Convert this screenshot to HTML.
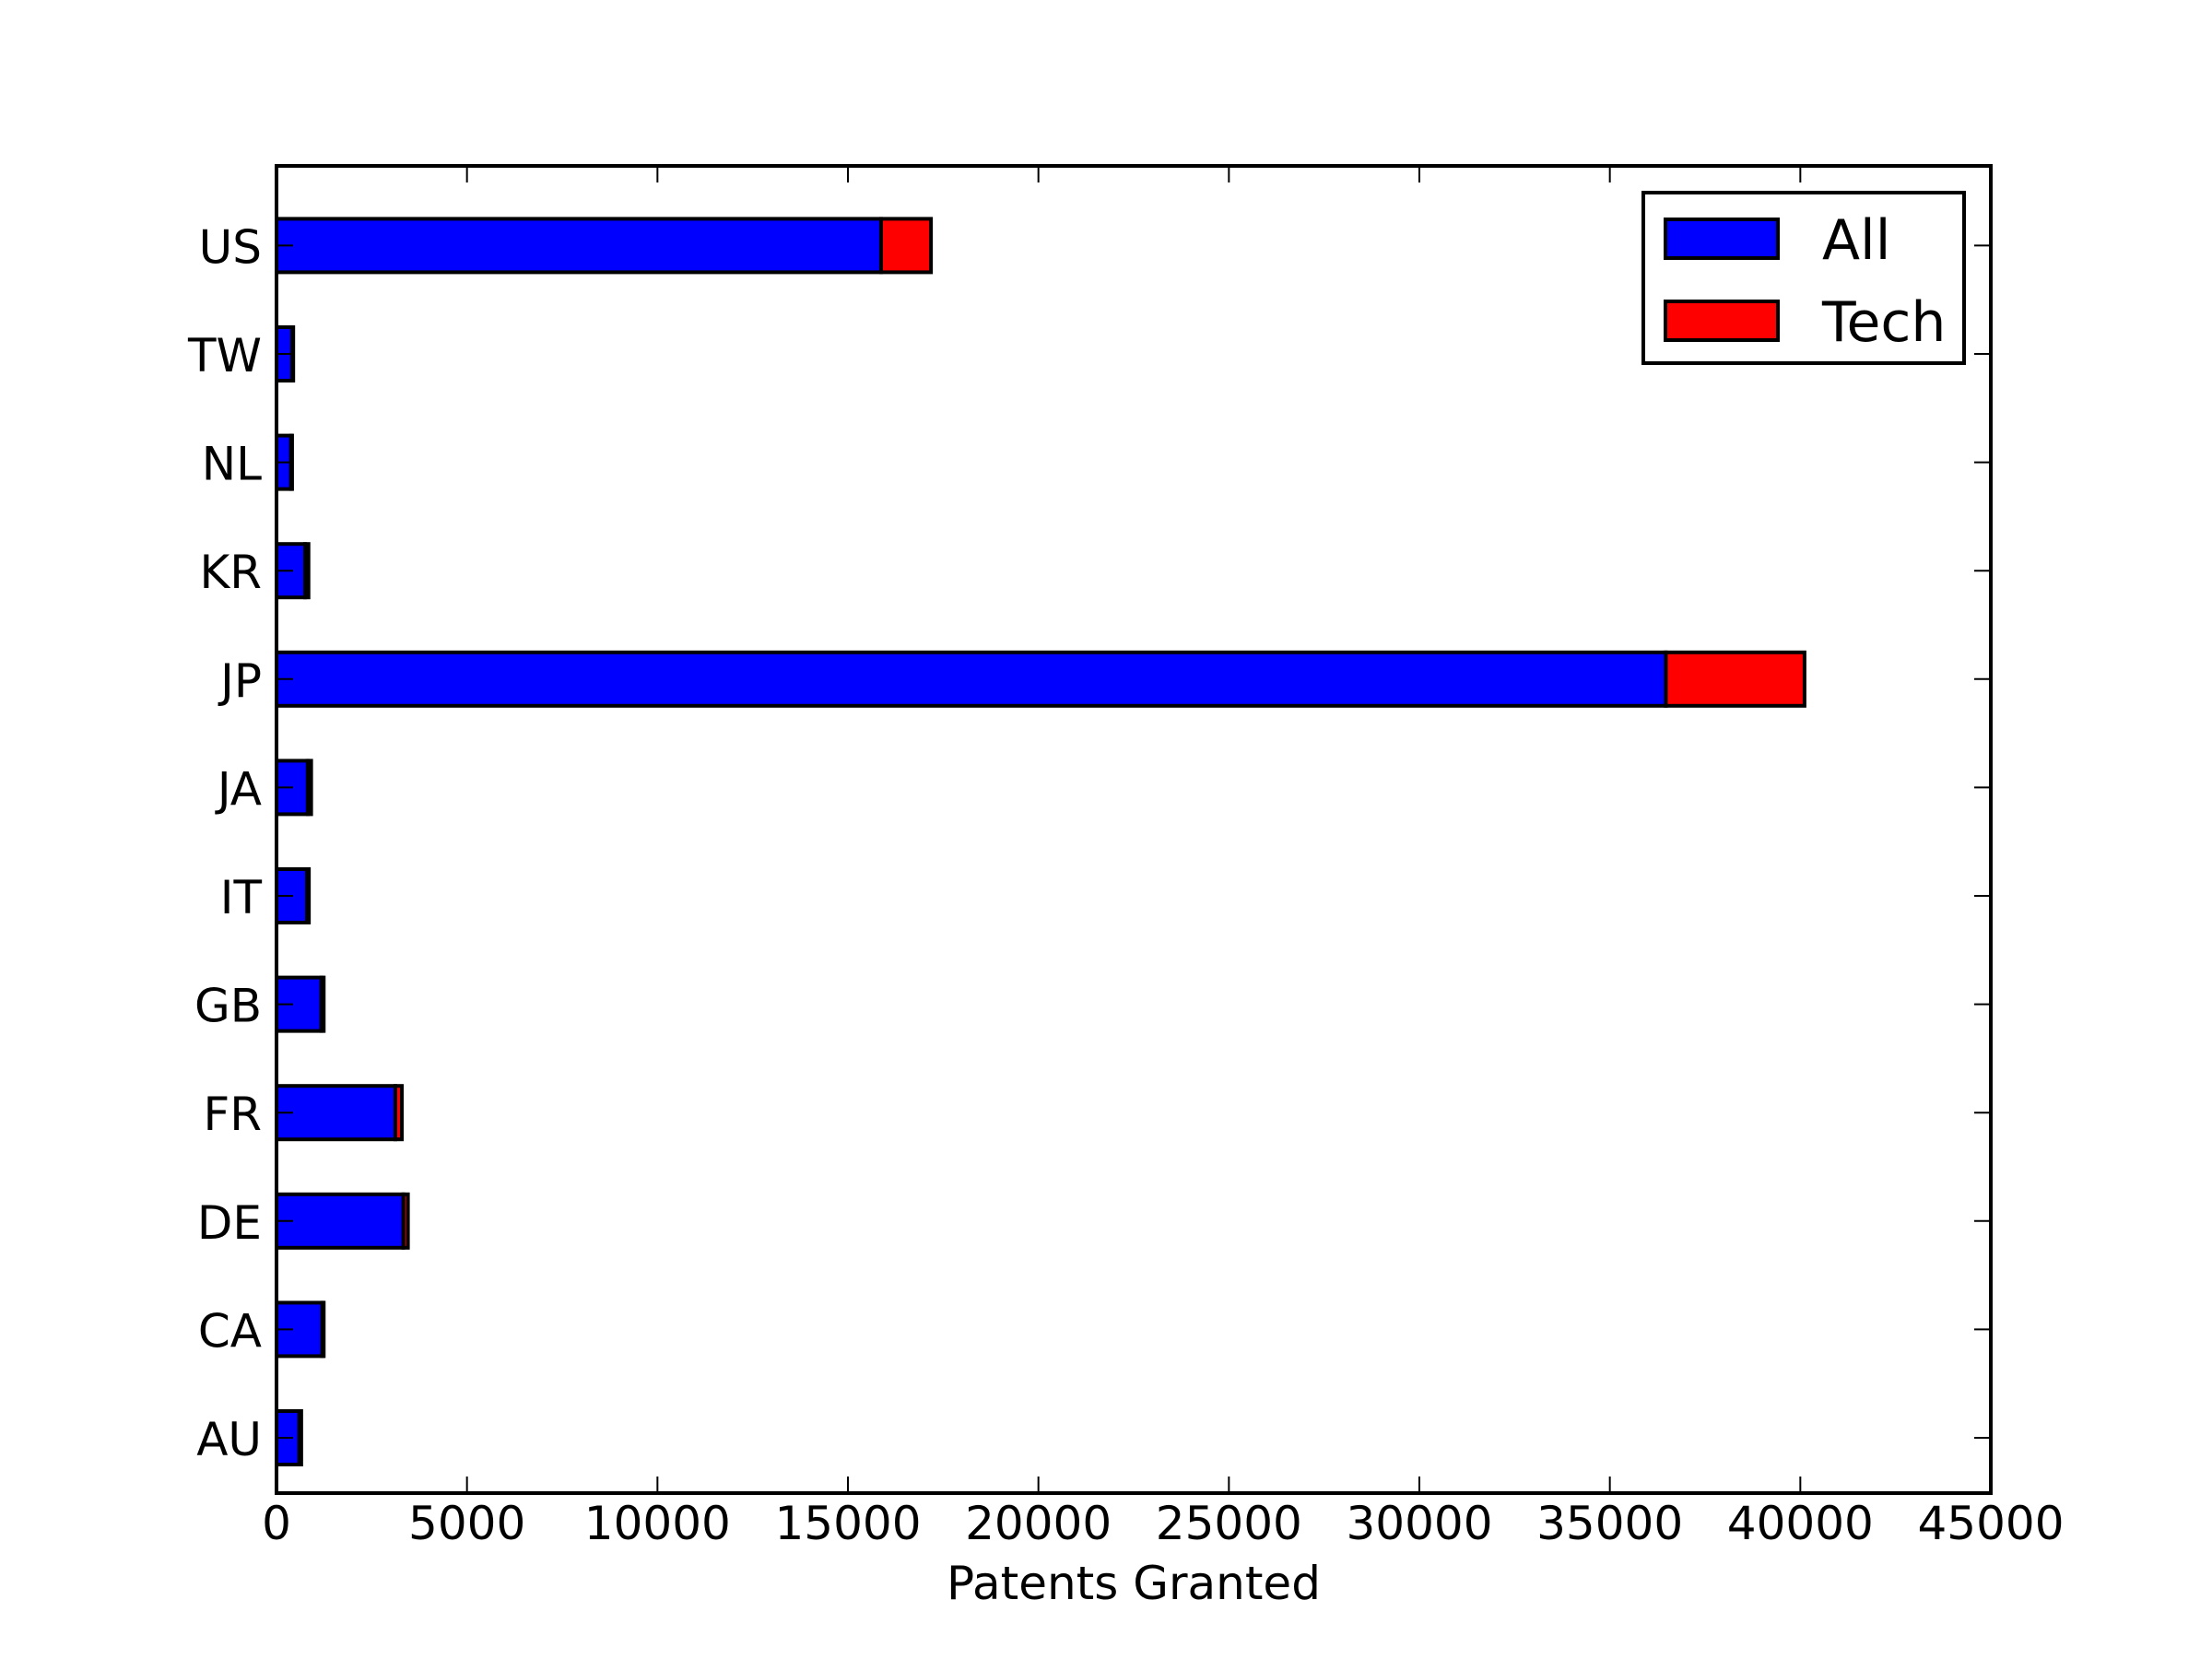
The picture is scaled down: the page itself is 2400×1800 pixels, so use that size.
<!DOCTYPE html>
<html><head><meta charset="utf-8"><style>
html,body{margin:0;padding:0;background:#fff;}
svg{display:block;font-family:"DejaVu Sans","Liberation Sans",sans-serif;}
</style></head><body>
<svg id="chart" width="2400" height="1800" viewBox="0 0 2400 1800" xmlns="http://www.w3.org/2000/svg">
<rect x="0" y="0" width="2400" height="1800" fill="#fff"/>
<g id="bars"></g>
<g id="ticks"></g>
<rect x="300" y="180" width="1860" height="1440" fill="none" stroke="#000" stroke-width="4"/>
<text x="1230" y="1735" font-size="50" text-anchor="middle">Patents Granted</text>
<g>
<rect x="1783" y="209" width="348" height="185" fill="#fff" stroke="#000" stroke-width="4"/>
<rect x="1807" y="238" width="122" height="42" fill="#0000ff" stroke="#000" stroke-width="4"/>
<text x="1977" y="281" font-size="60">All</text>
<rect x="1807" y="327" width="122" height="42" fill="#ff0000" stroke="#000" stroke-width="4"/>
<text x="1977" y="370" font-size="60">Tech</text>
</g>
</svg>
<script>
const countries = ["AU","CA","DE","FR","GB","IT","JA","JP","KR","NL","TW","US"];
const allValues = [600, 1200, 3330, 3120, 1180, 800, 820, 36470, 750, 380, 410, 15870];
const techValues = [50, 40, 120, 170, 60, 50, 90, 3640, 90, 30, 30, 1310];
const xTicks = [0,5000,10000,15000,20000,25000,30000,35000,40000,45000];
const xTickLabels = ["0","5000","10000","15000","20000","25000","30000","35000","40000","45000"];

const NS = "http://www.w3.org/2000/svg";
const X0 = 300, X1 = 2160, XMAX = 45000;
function xs(v){ return X0 + v/XMAX*(X1-X0); }
function ys(i){ return 1560 - i*117.6; }
const BH = 58;
const bars = document.getElementById('bars');
const ticks = document.getElementById('ticks');
function mk(tag, attrs, parent){
  const e = document.createElementNS(NS, tag);
  for (const k in attrs) e.setAttribute(k, attrs[k]);
  parent.appendChild(e);
  return e;
}
countries.forEach((c,i)=>{
  const y = ys(i);
  const a = mk('rect', {x:xs(0), y:y-BH/2, width:xs(allValues[i])-xs(0), height:BH, fill:'#0000ff', stroke:'#000', 'stroke-width':4}, bars);
  
  
  const t = mk('rect', {x:xs(allValues[i]), y:y-BH/2, width:xs(allValues[i]+techValues[i])-xs(allValues[i]), height:BH, fill:'#ff0000', stroke:'#000', 'stroke-width':4}, bars);
  
  
  const l1 = mk('line', {x1:X0, x2:X0+18, y1:y, y2:y, stroke:'#000', 'stroke-width':2}, ticks);
  
  
  const l2 = mk('line', {x1:X1-18, x2:X1, y1:y, y2:y, stroke:'#000', 'stroke-width':2}, ticks);
  
  
  const tx = mk('text', {x:284, y:y+19, 'font-size':50, 'text-anchor':'end'}, ticks);
  tx.textContent = c;
  
  
});
xTicks.forEach((v,k)=>{
  const x = xs(v);
  const b = mk('line', {x1:x, x2:x, y1:1620, y2:1602, stroke:'#000', 'stroke-width':2}, ticks);
  
  
  const t = mk('line', {x1:x, x2:x, y1:180, y2:198, stroke:'#000', 'stroke-width':2}, ticks);
  
  
  const tx = mk('text', {x:x, y:1670, 'font-size':50, 'text-anchor':'middle'}, ticks);
  tx.textContent = xTickLabels[k];
  
  
});
</script>
</body></html>
